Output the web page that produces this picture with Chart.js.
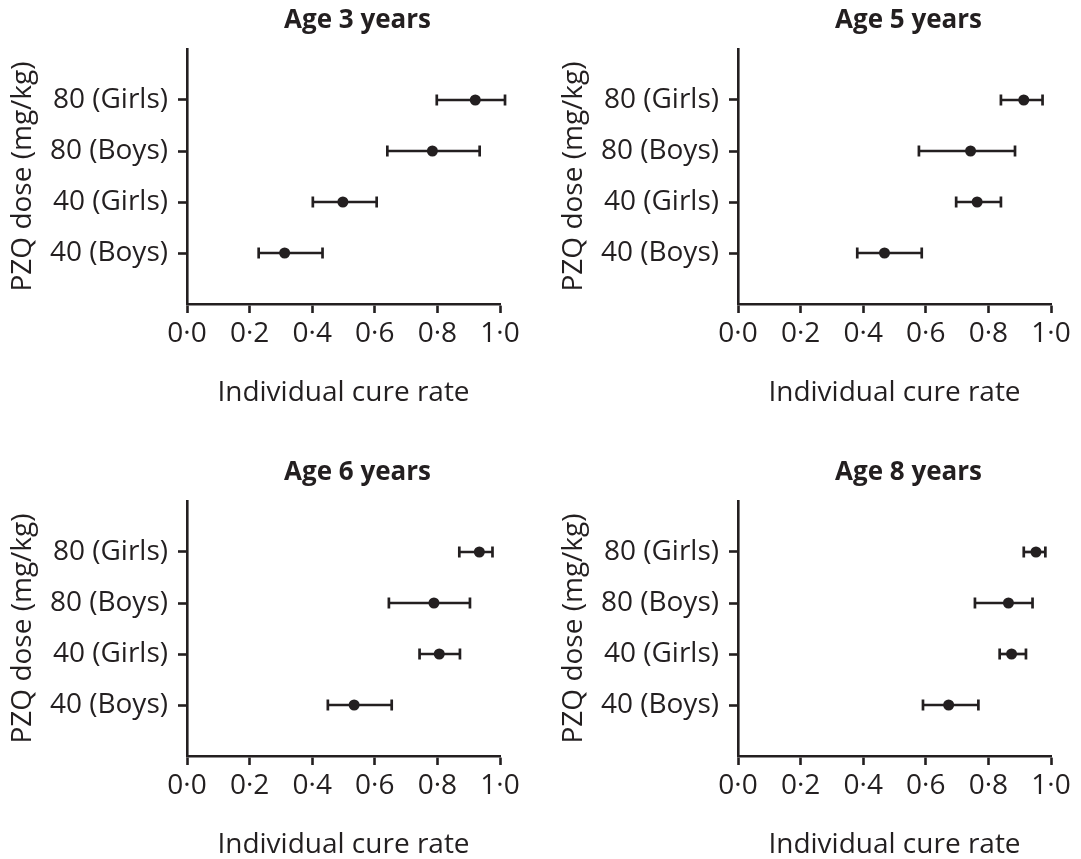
<!DOCTYPE html>
<html>
<head>
<meta charset="utf-8">
<script src="https://cdn.jsdelivr.net/npm/chart.js@4.4.1/dist/chart.umd.min.js"></script>
<style>
  html, body { margin: 0; padding: 0; background: #ffffff; overflow: hidden; }
  body { width: 1081px; height: 859px; position: relative; }
  .panel { position: absolute; width: 540px; height: 420px; }
</style>
</head>
<body>
<div class="panel" style="left:0px;top:0px;"><canvas id="c0"></canvas></div>
<div class="panel" style="left:551px;top:0px;"><canvas id="c1"></canvas></div>
<div class="panel" style="left:0px;top:452px;"><canvas id="c2"></canvas></div>
<div class="panel" style="left:551px;top:452px;"><canvas id="c3"></canvas></div>
<script>
// ---- Data ----
const panelTitles = ['Age 3 years', 'Age 5 years', 'Age 6 years', 'Age 8 years'];
// y positions 1..4 correspond to these labels (bottom to top)
const doseLabels = ['40 (Boys)', '40 (Girls)', '80 (Boys)', '80 (Girls)'];
const xTickValues = [0, 0.2, 0.4, 0.6, 0.8, 1.0];
const xTickLabels = ['0·0', '0·2', '0·4', '0·6', '0·8', '1·0'];
const xAxisTitle = 'Individual cure rate';
const yAxisTitle = 'PZQ dose (mg/kg)';

// cure rate estimates and 95% CI (order: 40 Boys, 40 Girls, 80 Boys, 80 Girls)
const age3Est  = [0.312, 0.498, 0.784, 0.921];
const age3Low  = [0.229, 0.402, 0.640, 0.798];
const age3High = [0.433, 0.606, 0.935, 1.016];

const age5Est  = [0.468, 0.764, 0.743, 0.913];
const age5Low  = [0.381, 0.697, 0.578, 0.840];
const age5High = [0.587, 0.840, 0.885, 0.973];

const age6Est  = [0.534, 0.806, 0.789, 0.934];
const age6Low  = [0.450, 0.743, 0.645, 0.870];
const age6High = [0.654, 0.872, 0.904, 0.976];

const age8Est  = [0.673, 0.874, 0.864, 0.952];
const age8Low  = [0.591, 0.836, 0.757, 0.913];
const age8High = [0.768, 0.920, 0.941, 0.982];

const panels = [
  { est: age3Est, low: age3Low, high: age3High },
  { est: age5Est, low: age5Low, high: age5High },
  { est: age6Est, low: age6Low, high: age6High },
  { est: age8Est, low: age8Low, high: age8High }
];

// ---- Styling ----
const INK = '#231f20';
const FONT = "'Open Sans', 'DejaVu Sans', sans-serif";

// shift the panel title slightly right, as in the original figure
const titleShift = {
  id: 'titleShift',
  afterLayout(chart) {
    const t = chart.titleBlock;
    if (t) { t.left += 14; t.right += 14; }
  }
};

function buildChart(canvasId, idx) {
  const p = panels[idx];
  const datasets = [];
  // point estimates (drawn on top)
  datasets.push({
    type: 'scatter',
    data: p.est.map((v, i) => ({ x: v, y: i + 1 })),
    pointRadius: 5.5,
    pointStyle: 'circle',
    backgroundColor: INK,
    borderColor: INK,
    borderWidth: 0,
    clip: false
  });
  // error bars with caps
  p.est.forEach((v, i) => {
    datasets.push({
      type: 'scatter',
      showLine: true,
      data: [{ x: p.low[i], y: i + 1 }, { x: p.high[i], y: i + 1 }],
      borderColor: INK,
      borderWidth: 2.7,
      pointStyle: 'line',
      rotation: 90,
      pointRadius: 5.5,
      pointBorderColor: INK,
      pointBorderWidth: 2.7,
      clip: false
    });
  });

  return new Chart(document.getElementById(canvasId), {
    type: 'scatter',
    data: { datasets },
    plugins: [titleShift],
    options: {
      responsive: true,
      maintainAspectRatio: false,
      animation: false,
      events: [],
      layout: { padding: { left: 0, right: 40, top: 0, bottom: 0 } },
      plugins: {
        legend: { display: false },
        tooltip: { enabled: false },
        title: {
          display: true,
          text: panelTitles[idx],
          fullSize: false,
          color: INK,
          font: { family: FONT, size: 26, weight: 'bold', lineHeight: 1.2 },
          padding: { top: 5, bottom: 12.8 }
        }
      },
      scales: {
        x: {
          type: 'linear',
          min: 0,
          max: 1,
          afterBuildTicks: (s) => { s.ticks = xTickValues.map(v => ({ value: v })); },
          afterFit: (s) => { s.height = 116; },
          ticks: {
            color: INK,
            font: { family: FONT, size: 28 },
            padding: 4,
            maxRotation: 0,
            autoSkip: false,
            callback: (v) => {
              const k = xTickValues.findIndex(t => Math.abs(t - v) < 1e-9);
              return k >= 0 ? xTickLabels[k] : '';
            }
          },
          grid: { drawOnChartArea: false, drawTicks: true, tickLength: 9, tickWidth: 2.6, tickColor: INK },
          border: { display: true, color: INK, width: 2.6 },
          title: {
            display: true,
            text: xAxisTitle,
            color: INK,
            font: { family: FONT, size: 28, lineHeight: 1.2 },
            padding: { top: 0, bottom: 10 }
          }
        },
        y: {
          type: 'linear',
          min: 0,
          max: 5,
          afterBuildTicks: (s) => { s.ticks = doseLabels.map((_, i) => ({ value: i + 1 })); },
          afterFit: (s) => { s.width = 187; },
          ticks: {
            color: INK,
            font: { family: FONT, size: 28 },
            padding: 10,
            autoSkip: false,
            callback: (v) => {
              const k = Math.round(v) - 1;
              return (k >= 0 && k < doseLabels.length) ? doseLabels[k] : '';
            }
          },
          grid: { drawOnChartArea: false, drawTicks: true, tickLength: 9, tickWidth: 2.6, tickColor: INK },
          border: { display: true, color: INK, width: 2.6 },
          title: {
            display: true,
            text: yAxisTitle,
            color: INK,
            font: { family: FONT, size: 28, lineHeight: 1.2 },
            padding: { top: 6, bottom: 0 }
          }
        }
      }
    }
  });
}

function drawAll() {
  ['c0', 'c1', 'c2', 'c3'].forEach((id, i) => buildChart(id, i));
}

if (document.fonts && document.fonts.load) {
  Promise.all([
    document.fonts.load("28px 'Open Sans'"),
    document.fonts.load("bold 26px 'Open Sans'")
  ]).then(drawAll, drawAll);
} else {
  drawAll();
}
</script>
</body>
</html>
